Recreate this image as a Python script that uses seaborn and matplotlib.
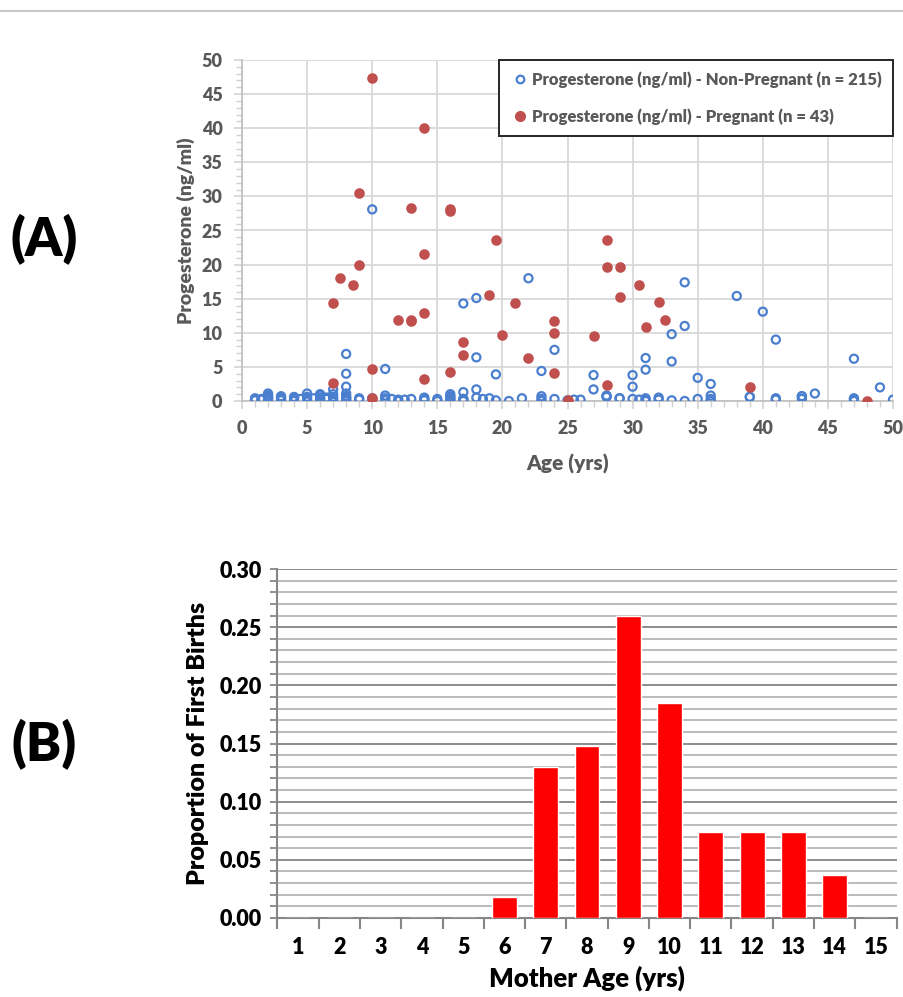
import numpy as np
import pandas as pd
import matplotlib
matplotlib.use("Agg")
import matplotlib.pyplot as plt
from matplotlib.lines import Line2D
from matplotlib.ticker import MultipleLocator, FixedLocator
import seaborn as sns

# ---------------- data ----------------
# Panel A: pregnant (red filled)
preg_age = [10, 14, 9, 13, 16, 16, 19.5, 14, 9, 7.5, 8.5, 19, 7, 21, 12, 13, 13, 14,
            24, 24, 20, 17, 17, 22, 24, 10, 16, 14, 7, 10, 25,
            28, 28, 29, 29, 30.5, 32, 32.5, 31, 27, 28, 39, 48]
preg_prog = [47.3, 40.1, 30.5, 28.3, 27.8, 28.1, 23.6, 21.6, 19.9, 18.0, 17.0, 15.6, 14.4, 14.3, 11.9, 11.7, 11.9, 12.9,
             11.8, 10.0, 9.7, 8.6, 6.8, 6.3, 4.1, 4.7, 4.3, 3.2, 2.6, 0.5, 0.2,
             23.6, 19.7, 19.7, 15.2, 17.0, 14.5, 11.9, 10.9, 9.5, 2.3, 2.1, 0.0]

# Panel A: non-pregnant (blue open) - visible raised points
np_age_hi = [10, 22, 18, 17, 24, 8, 18, 11, 23, 8, 19.5, 8, 7, 18, 17, 5, 8, 2,
             34, 38, 40, 34, 33, 41, 31, 47, 33, 31, 27, 30, 35, 36, 27, 30, 49, 44,
             43, 28, 28, 29, 39, 36, 7, 7, 8, 16, 16, 6, 6, 2, 11, 23, 17]
np_prog_hi = [28.1, 18.0, 15.1, 14.3, 7.5, 6.9, 6.4, 4.7, 4.4, 4.0, 3.9, 2.1, 1.7, 1.7, 1.3, 1.1, 1.1, 1.1,
              17.4, 15.4, 13.1, 11.0, 9.8, 9.0, 6.3, 6.2, 5.8, 4.6, 3.8, 3.8, 3.4, 2.5, 1.7, 2.1, 2.0, 1.1,
              0.7, 0.6, 0.8, 0.4, 0.6, 0.8, 1.0, 0.6, 0.5, 1.0, 0.7, 0.8, 1.0, 0.7, 0.8, 0.7, 0.3]
# Panel A: non-pregnant (blue open) - points crowded near zero
np_age_lo = [1, 1, 1, 1.5, 1.5, 2, 2, 2, 2, 2, 2, 3, 3, 3, 3, 4, 4, 4, 4, 4.5,
             5, 5, 5, 5.5, 6, 6, 6, 6.5, 6.5, 7, 7, 8, 8, 8, 8, 9, 9, 10, 10, 10,
             11, 11, 11.5, 12, 12, 12.5, 13, 14, 14, 14, 15, 15, 16, 16, 16, 17, 17,
             18, 18.5, 19, 19.5, 20.5, 21.5, 23, 23, 24, 25, 25.5, 26, 28, 29, 30,
             30.5, 31, 31, 31, 32, 32, 33, 34, 35, 36, 36, 39, 41, 41, 43, 43,
             47, 47, 47, 50]
np_prog_lo = [0.2, 0.4, 0.1, 0.2, 0.3, 0.0, 0.2, 0.4, 0.6, 0.8, 0.3, 0.1, 0.3, 0.5, 0.7, 0.0, 0.2, 0.4, 0.6, 0.3,
              0.0, 0.3, 0.6, 0.4, 0.1, 0.3, 0.5, 0.3, 0.5, 0.0, 0.3, 0.0, 0.2, 0.4, 0.7, 0.2, 0.4, 0.0, 0.2, 0.4,
              0.1, 0.4, 0.3, 0.0, 0.2, 0.2, 0.3, 0.1, 0.3, 0.5, 0.0, 0.3, 0.1, 0.3, 0.5, 0.0, 0.3,
              0.5, 0.3, 0.4, 0.1, 0.0, 0.4, 0.0, 0.3, 0.3, 0.1, 0.2, 0.2, 0.7, 0.4, 0.3,
              0.2, 0.0, 0.2, 0.4, 0.2, 0.5, 0.1, 0.0, 0.3, 0.0, 0.3, 0.6, 0.2, 0.4, 0.3, 0.7,
              0.0, 0.2, 0.4, 0.2]

# Panel B
mother_age = ["1", "2", "3", "4", "5", "6", "7", "8", "9", "10", "11", "12", "13", "14", "15"]
first_birth_prop = [0, 0, 0, 0, 0, 0.018, 0.130, 0.148, 0.260, 0.185, 0.074, 0.074, 0.074, 0.037, 0]

label_np = "Progesterone (ng/ml) - Non-Pregnant (n = 215)"
label_p = "Progesterone (ng/ml) - Pregnant (n = 43)"

# ---------------- style ----------------
sns.set_theme(style="white")
plt.rcParams["font.family"] = ["Lato", "DejaVu Sans"]
plt.rcParams["font.weight"] = "bold"

BLUE = "#4a7ecf"
RED = "#c0504d"
GRAY_TXT = "#595959"

W, H = 904, 997
fig = plt.figure(figsize=(W / 100, H / 100), dpi=100)
fig.patch.set_facecolor("white")

# top separator line
fig.add_artist(Line2D([0, 1], [1 - 11 / H, 1 - 11 / H], color="#c8c8c8", lw=1.5))

# ---------------- Panel A ----------------
ax1 = fig.add_axes([242 / W, 1 - 401 / H, 651 / W, 341 / H])
df_np = pd.DataFrame({"age": np_age_hi + np_age_lo, "prog": np_prog_hi + np_prog_lo})
df_p = pd.DataFrame({"age": preg_age, "prog": preg_prog})

sns.scatterplot(data=df_np, x="age", y="prog", ax=ax1, s=34, marker="o",
                color=BLUE, edgecolor=BLUE, linewidth=1.6, zorder=3, legend=False)
ax1.collections[-1].set_facecolor("none")
sns.scatterplot(data=df_p, x="age", y="prog", ax=ax1, s=58, marker="o",
                color=RED, edgecolor=RED, linewidth=0, zorder=4, legend=False)

ax1.set_xlim(0, 50)
ax1.set_ylim(0, 50)
ax1.xaxis.set_major_locator(MultipleLocator(5))
ax1.yaxis.set_major_locator(MultipleLocator(5))
ax1.xaxis.set_minor_locator(MultipleLocator(1))
ax1.yaxis.set_minor_locator(MultipleLocator(1))
ax1.grid(True, which="major", color="#d9d9d9", lw=1.3, zorder=0)
ax1.set_axisbelow(True)
for s in ["top", "right"]:
    ax1.spines[s].set_visible(False)
for s in ["left", "bottom"]:
    ax1.spines[s].set_color("#bfbfbf")
    ax1.spines[s].set_linewidth(1.2)
ax1.tick_params(axis="both", which="major", direction="out", length=6, width=1.1,
                color="#d0d0d0", labelsize=13, labelcolor=GRAY_TXT, pad=8, bottom=True, left=True)
ax1.tick_params(axis="both", which="minor", direction="out", length=4, width=1.0,
                color="#d0d0d0", bottom=True, left=True)
for t in ax1.get_xticklabels() + ax1.get_yticklabels():
    t.set_fontweight("heavy")
ax1.set_xlabel("Age (yrs)", fontsize=15, fontweight="heavy", color=GRAY_TXT, labelpad=12)
ax1.set_ylabel("Progesterone (ng/ml)", fontsize=14, fontweight="heavy", color=GRAY_TXT, labelpad=5)

handles = [
    Line2D([], [], marker="o", linestyle="none", markersize=5.5, markerfacecolor="none",
           markeredgecolor=BLUE, markeredgewidth=1.6),
    Line2D([], [], marker="o", linestyle="none", markersize=7, markerfacecolor=RED,
           markeredgecolor=RED),
]
leg = ax1.legend(handles, [label_np, label_p], loc="upper right", borderaxespad=0,
                 frameon=True, fancybox=False, framealpha=1, edgecolor="#262626",
                 prop={"weight": "heavy", "size": 12}, labelspacing=1.2,
                 handletextpad=0.15, handlelength=1.1, borderpad=0.7)
leg.get_frame().set_linewidth(1.4)
for t in leg.get_texts():
    t.set_color(GRAY_TXT)
leg.set_zorder(10)

fig.text(44 / W, 1 - 240 / H, "(A)", fontsize=38, fontweight="heavy", ha="center", va="center",
         color="black")

# ---------------- Panel B ----------------
ax2 = fig.add_axes([277.4 / W, 1 - 918 / H, 619.2 / W, 349 / H])
df_b = pd.DataFrame({"age": mother_age, "prop": first_birth_prop})
sns.barplot(data=df_b, x="age", y="prop", order=mother_age, color="#ff0000", saturation=1,
            width=0.6, ax=ax2, zorder=3)
ax2.set_xlim(-0.5, len(mother_age) - 0.5)
ax2.set_ylim(0, 0.30)
ax2.yaxis.set_major_locator(MultipleLocator(0.05))
ax2.yaxis.set_minor_locator(MultipleLocator(0.01))
ax2.yaxis.set_major_formatter(matplotlib.ticker.FormatStrFormatter("%.2f"))
ax2.grid(True, axis="y", which="minor", color="#b5b5b5", lw=1.3, zorder=0)
ax2.grid(True, axis="y", which="major", color="#8c8c8c", lw=1.4, zorder=0)
ax2.grid(False, axis="x")
ax2.set_axisbelow(True)
for s in ["top", "right"]:
    ax2.spines[s].set_visible(False)
for s in ["left", "bottom"]:
    ax2.spines[s].set_color("#868686")
    ax2.spines[s].set_linewidth(1.5)
ax2.xaxis.set_minor_locator(FixedLocator(np.arange(-0.5, len(mother_age), 1.0)))
ax2.tick_params(axis="x", which="major", length=0, pad=14, labelsize=15.5, labelcolor="black")
ax2.tick_params(axis="x", which="minor", direction="out", length=8, width=1.5, color="#868686", bottom=True)
ax2.tick_params(axis="y", which="major", direction="out", length=5, width=1.3, color="#868686",
                labelsize=15.5, labelcolor="black", pad=6, left=True)
ax2.tick_params(axis="y", which="minor", direction="out", length=5, width=1.3, color="#868686", left=True)
for t in ax2.get_xticklabels() + ax2.get_yticklabels():
    t.set_fontweight("heavy")
ax2.set_xlabel("Mother Age (yrs)", fontsize=18.5, fontweight="heavy", color="black", labelpad=5)
ax2.set_ylabel("Proportion of First Births", fontsize=18, fontweight="heavy", color="black", labelpad=8)

fig.text(44 / W, 1 - 745 / H, "(B)", fontsize=38, fontweight="heavy", ha="center", va="center",
         color="black")

fig.savefig("out.png", dpi=100, facecolor="white")
